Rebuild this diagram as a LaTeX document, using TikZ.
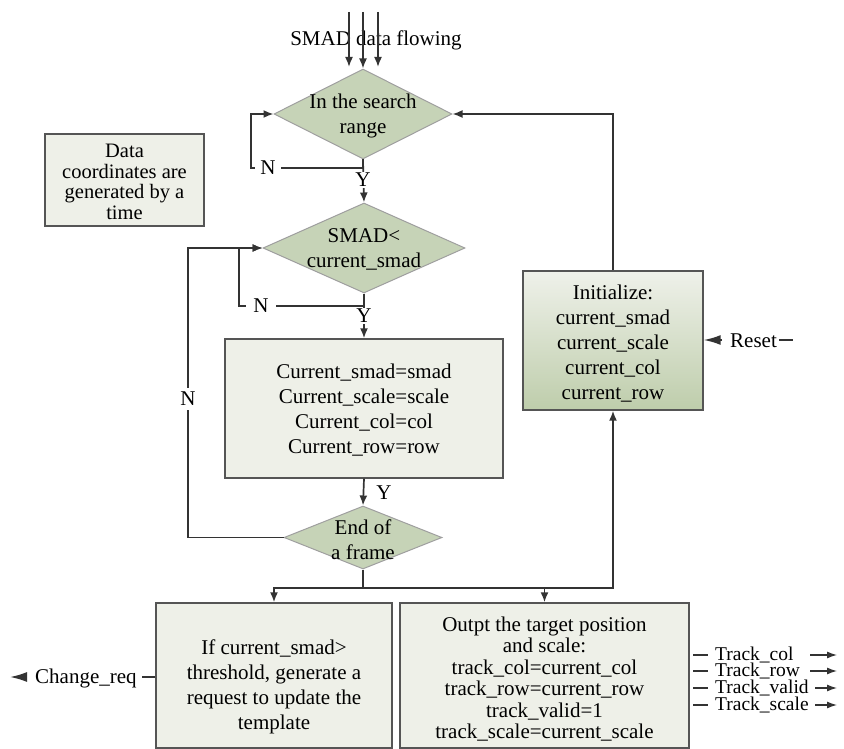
\documentclass[tikz,border=0pt]{standalone}
\usepackage{fontspec}
\setmainfont{Liberation Serif}
\usetikzlibrary{arrows.meta,shapes.geometric}
\definecolor{boxfill}{HTML}{EEF0E8}
\definecolor{dfill}{HTML}{C6D3B7}
\definecolor{edgec}{HTML}{555555}
\definecolor{linec}{HTML}{333333}
\definecolor{inittop}{HTML}{EFF1EA}
\definecolor{initbot}{HTML}{BECDAB}
\begin{document}
\begin{tikzpicture}[x=1pt,y=-1pt,
  every node/.style={font=\fontsize{21}{25}\selectfont},
  wire/.style={draw=linec, line width=1.7pt},
  arr/.style={wire, -{Latex[length=10pt,width=8pt]}},
  sigarr/.style={wire, -{Latex[length=17pt,width=10pt]}},
  outarr/.style={wire, line width=1.2pt, -{Latex[length=10pt,width=7pt]}},
  boxst/.style={rectangle, draw=edgec, line width=1.4pt, fill=boxfill, inner sep=0},
  dec/.style={diamond, draw=gray!75, line width=1pt, fill=dfill, inner sep=0},
  txt/.style={align=center, inner sep=0},
  lab/.style={fill=white, inner ysep=1pt},
  outlab/.style={anchor=base west, inner sep=0, font=\fontsize{19.5}{20}\selectfont}]
\useasboundingbox (0,0) rectangle (844,749);

% shapes
\node[dec, minimum width=178, minimum height=90] (d1) at (363,114) {};
\node[txt] (d1t) at (363,116) {In the search\\range};
\node[dec, minimum width=202, minimum height=90] (d2) at (364,248) {};
\node[txt] (d2t) at (364,249) {SMAD<\\current\_smad};
\node[dec, minimum width=158, minimum height=63] (d3) at (363,537.5) {};
\node[txt] (d3t) at (363,540) {End of\\a frame};

\node[boxst, minimum width=278, minimum height=139] (b3) at (364,408.5) {};
\node[txt] (b3t) at (364,410) {Current\_smad=smad\\Current\_scale=scale\\Current\_col=col\\Current\_row=row};

\node[rectangle, draw=edgec, line width=1.4pt, inner sep=0, top color=inittop, bottom color=initbot,
      minimum width=180, minimum height=139] (init) at (613,340.5) {};
\node[txt] (initt) at (613,344) {Initialize:\\current\_smad\\current\_scale\\current\_col\\current\_row};

\node[boxst, minimum width=159, minimum height=92] (data) at (124.5,180) {};
\node[txt, font=\fontsize{20.5}{20.5}\selectfont] (datat) at (124.5,182) {Data\\coordinates are\\generated by a\\time};

\node[boxst, minimum width=236, minimum height=145] (lbox) at (274,675.5) {};
\node[txt] (lboxt) at (274,687) {If current\_smad>\\threshold, generate a\\request to update the\\template};

\node[boxst, minimum width=289, minimum height=145] (rbox) at (544.5,675.5) {};
\node[txt, font=\fontsize{21}{21.5}\selectfont] (rboxt) at (544.5,679) {Outpt the target position\\and scale:\\track\_col=current\_col\\track\_row=current\_row\\track\_valid=1\\track\_scale=current\_scale};

% input data flow
\node[txt] (flow) at (376,40) {SMAD data flowing};
\coordinate (t1) at (349,12);
\coordinate (t2) at (363,12);
\coordinate (t3) at (378,12);
\coordinate (e1) at (349,67);
\coordinate (e3) at (378,67);
\draw[arr] (t1) -- (e1);
\draw[arr] (t2) -- (d1.north);
\draw[arr] (t3) -- (e3);

% diamond 1 loop
\coordinate (n1) at (251,168);
\draw[arr] (d1.south) |- (n1) |- (d1.west);
\node[lab, inner xsep=5pt] (n1l) at (268,168) {N};
\draw[arr] (d1.south) -- (d2.north);
\node[lab, inner xsep=2pt] (y1l) at (363,180) {Y};

% diamond 2 loop
\coordinate (n2) at (239,306);
\draw[arr] (d2.south) |- (n2) |- (d2.west);
\node[lab, inner xsep=7pt] (n2l) at (261,306) {N};
\draw[arr] (d2.south) -- (b3.north);
\node[lab, inner xsep=2pt] (y2l) at (364,316) {Y};

% box3 to diamond3
\draw[arr] (b3.south) -- (d3.north);
\node[txt] (y3l) at (384,493) {Y};

% outer loop
\coordinate (n3) at (188,400);
\draw[arr] (d3.west) -| (n3) |- (d2.west);
\node[lab, inner xsep=2pt, inner ysep=4pt] (n3l) at (188,399) {N};

% branch
\coordinate (br) at (363,588);
\draw[wire] (d3.south) -- (br);
\draw[arr] (br) -| (lbox.north);
\draw[arr] (br) -| (rbox.north);
\draw[arr] (br) -| (init.south);
\draw[arr] (init.north) |- (d1.east);

% Reset
\node[anchor=base west, inner sep=0] (reset) at (730,347) {Reset};
\coordinate (rsBase) at (722,340);
\draw[sigarr] (rsBase) -- (init.east |- rsBase);
\coordinate (rsA) at (779,340);
\coordinate (rsB) at (793,340);
\draw[wire] (rsA) -- (rsB);

% Change_req
\node[anchor=base west, inner sep=0] (chg) at (35,683) {Change\_req};
\coordinate (chgBase) at (27,677);
\coordinate (chgTip) at (10,677);
\draw[sigarr] (chgBase) -- (chgTip);
\coordinate (chgDash) at (142,677);
\draw[wire] (chgDash) -- (lbox.west |- chgDash);

% outputs
\foreach \nm/\yy/\xs in {col/655/810, row/671/810, valid/688/815, scale/705/815}{
  \node[outlab] (out\nm) at (715,\yy+5) {Track\_\nm};
  \coordinate (oa\nm) at (693,\yy);
  \coordinate (ob\nm) at (708,\yy);
  \coordinate (oc\nm) at (\xs,\yy);
  \coordinate (od\nm) at (837,\yy);
  \draw[wire, line width=1.2pt] (oa\nm) -- (ob\nm);
  \draw[outarr] (oc\nm) -- (od\nm);
}
\end{tikzpicture}
\end{document}
